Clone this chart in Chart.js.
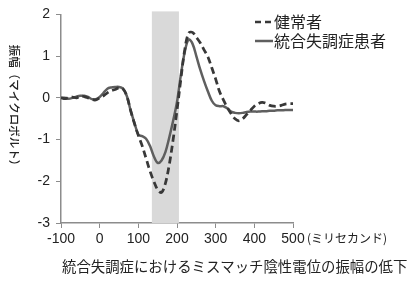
<!DOCTYPE html>
<html>
<head>
<meta charset="utf-8">
<script src="https://cdn.jsdelivr.net/npm/chart.js@4"></script>
<style>
  html, body { margin: 0; padding: 0; background: #fff; }
  #wrap { width: 419px; height: 283px; }
</style>
</head>
<body>
<div id="wrap"><canvas id="mmn-chart" width="419" height="283"></canvas></div>
<script>
const times = [-100,-90,-80,-70,-60,-50,-40,-30,-20,-10,0,10,20,30,40,50,60,70,80,90,100,
  110,120,130,140,150,160,170,180,190,200,210,220,230,240,250,260,270,280,290,300,
  310,320,330,340,350,360,370,380,390,400,410,420,430,440,450,460,470,480,490,500];

const healthy = [0,-0.02,0,0.02,0,0.04,0.03,0,-0.04,-0.05,0,0.05,0.12,0.17,0.2,0.24,0.22,0.05,-0.3,-0.62,-0.9,
  -1.15,-1.45,-1.75,-2.0,-2.2,-2.27,-2.05,-1.6,-1.0,-0.3,0.45,1.15,1.55,1.57,1.45,1.32,1.15,0.98,0.72,0.45,
  0.15,-0.05,-0.23,-0.38,-0.5,-0.55,-0.5,-0.4,-0.3,-0.2,-0.14,-0.11,-0.13,-0.18,-0.2,-0.2,-0.18,-0.15,-0.14,-0.14];

const patients = [0,0,-0.02,0,0.03,0.05,0.05,0.02,-0.03,-0.03,0.02,0.12,0.22,0.25,0.26,0.26,0.22,0.05,-0.3,-0.6,-0.88,
  -0.92,-0.98,-1.15,-1.4,-1.56,-1.5,-1.3,-0.95,-0.55,-0.1,0.55,1.1,1.4,1.3,1.0,0.68,0.4,0.15,-0.07,-0.18,
  -0.2,-0.2,-0.25,-0.33,-0.36,-0.37,-0.36,-0.34,-0.33,-0.33,-0.33,-0.32,-0.32,-0.31,-0.31,-0.3,-0.3,-0.29,-0.29,-0.29];

const seriesNames = ["健常者", "統合失調症患者"];
const shadeRange = [135, 205];
const yTitle = "振幅（マイクロボルト）";
const xUnit = "(ミリセカンド)";
const caption = "統合失調症におけるミスマッチ陰性電位の振幅の低下";

const jpFont = '"Noto Sans CJK JP", sans-serif';
const numFont = '"Liberation Sans", Arial, sans-serif';
const dashColor = "#383838";
const solidColor = "#5f5f5f";
const axisColor = "#8c8c8c";

const extras = {
  id: "extras",
  beforeDatasetsDraw(chart) {
    const { ctx, chartArea, scales } = chart;
    const x0 = scales.x.getPixelForValue(shadeRange[0]);
    const x1 = scales.x.getPixelForValue(shadeRange[1]);
    ctx.save();
    ctx.fillStyle = "#d9d9d9";
    ctx.fillRect(x0, chartArea.top - 3, x1 - x0, chartArea.bottom - chartArea.top + 3);
    ctx.restore();
  },
  afterDraw(chart) {
    const { ctx, chartArea } = chart;
    ctx.save();
    ctx.fillStyle = "#222";

    // legend
    ctx.lineWidth = 2.5;
    ctx.strokeStyle = dashColor;
    ctx.setLineDash([6, 4]);
    ctx.beginPath(); ctx.moveTo(255, 22); ctx.lineTo(273, 22); ctx.stroke();
    ctx.setLineDash([]);
    ctx.strokeStyle = solidColor;
    ctx.beginPath(); ctx.moveTo(255, 41); ctx.lineTo(273, 41); ctx.stroke();
    ctx.font = "16px " + jpFont;
    ctx.textAlign = "left";
    ctx.textBaseline = "middle";
    ctx.fillText(seriesNames[0], 274, 22);
    ctx.fillText(seriesNames[1], 274, 41);

    // y axis title, reading top to bottom
    ctx.save();
    ctx.translate(14, 108);
    ctx.rotate(Math.PI / 2);
    ctx.font = "500 11.5px " + jpFont;
    ctx.textAlign = "center";
    ctx.fillText(yTitle, 0, 0);
    ctx.restore();

    // x unit after last tick
    ctx.font = "12px " + jpFont;
    ctx.textAlign = "left";
    ctx.fillText(xUnit, chartArea.right + 14, 238);

    // caption
    ctx.font = "14.4px " + jpFont;
    ctx.fillText(caption, 62, 267);
    ctx.restore();
  }
};

new Chart(document.getElementById("mmn-chart"), {
  type: "line",
  data: {
    datasets: [
      {
        label: seriesNames[0],
        data: times.map((t, i) => ({ x: t, y: healthy[i] })),
        borderColor: dashColor,
        borderWidth: 2.75,
        borderDash: [7, 4],
        pointRadius: 0,
        tension: 0.35,
        fill: false
      },
      {
        label: seriesNames[1],
        data: times.map((t, i) => ({ x: t, y: patients[i] })),
        borderColor: solidColor,
        borderWidth: 2.5,
        pointRadius: 0,
        tension: 0.35,
        fill: false
      }
    ]
  },
  options: {
    responsive: false,
    animation: false,
    layout: { padding: { top: 9, right: 126, bottom: 0, left: 0 } },
    plugins: {
      legend: { display: false },
      tooltip: { enabled: false }
    },
    scales: {
      x: {
        type: "linear",
        min: -100,
        max: 500,
        ticks: { stepSize: 100, color: "#222", font: { family: numFont, size: 14 }, padding: 3, maxRotation: 0 },
        grid: { drawOnChartArea: false, drawTicks: true, tickLength: 5, color: axisColor },
        border: { color: axisColor, width: 1.5 },
        afterFit(scale) { scale.height = 60; }
      },
      y: {
        min: -3,
        max: 2,
        ticks: { stepSize: 1, color: "#222", font: { family: numFont, size: 14 }, padding: 6 },
        grid: { drawOnChartArea: false, drawTicks: true, tickLength: 5, color: axisColor },
        border: { color: axisColor, width: 1.5 },
        afterFit(scale) { scale.width = 61; }
      }
    }
  },
  plugins: [extras]
});
</script>
</body>
</html>
